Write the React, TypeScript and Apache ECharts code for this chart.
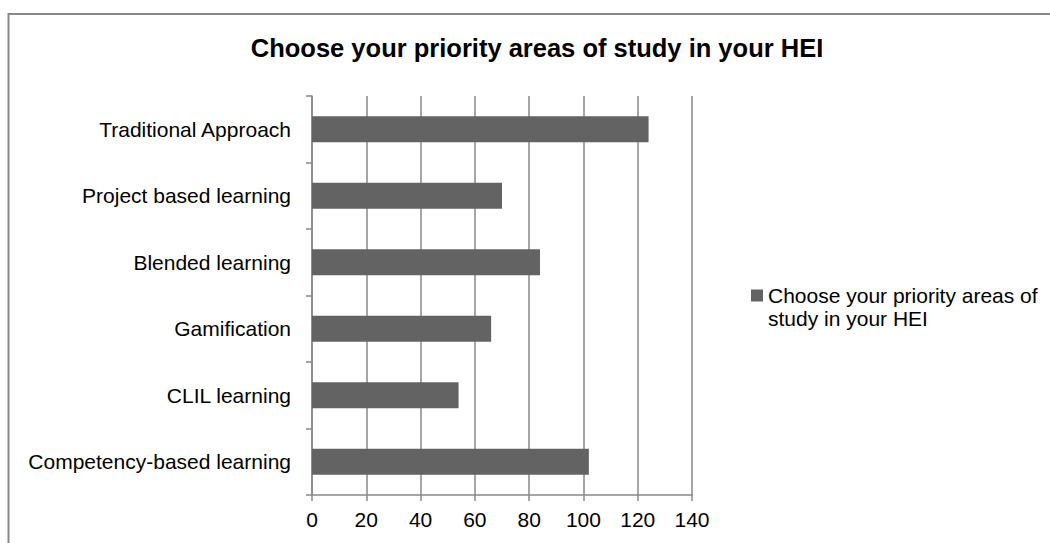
import React, { useEffect, useRef } from "react";
import * as echarts from "echarts";

const TITLE = "Choose your priority areas of study in your HEI";
const SERIES_NAME = "Choose your priority areas of study in your HEI";
const CATEGORIES = [
  "Traditional Approach",
  "Project based learning",
  "Blended learning",
  "Gamification",
  "CLIL learning",
  "Competency-based learning",
];
const VALUES = [124, 70, 84, 66, 54, 102];
const X_MIN = 0;
const X_MAX = 140;
const X_STEP = 20;

const FONT = "'Liberation Sans', Arial, Helvetica, sans-serif";
const GRAY = "#898989";
const BAR = "#636363";

export default function App() {
  const ref = useRef<HTMLDivElement>(null);
  useEffect(() => {
    if (!ref.current) return;
    const chart = echarts.init(ref.current, null, { renderer: "svg" });
    chart.setOption({
      animation: false,
      backgroundColor: "#ffffff",
      textStyle: { fontFamily: FONT },
      title: {
        text: TITLE,
        left: 537,
        top: 35,
        padding: 0,
        textAlign: "center",
        textStyle: { fontFamily: FONT, fontSize: 25.5, fontWeight: "bold", color: "#000" },
      },
      graphic: [
        {
          type: "rect",
          shape: { x: 8.5, y: 14, width: 1100, height: 600 },
          style: { fill: "none", stroke: GRAY, lineWidth: 2 },
          z: -1,
        },
      ],
      legend: {
        data: [SERIES_NAME],
        left: 751,
        top: 261,
        padding: 0,
        orient: "vertical",
        itemWidth: 12,
        itemHeight: 12,
        icon: "rect",
        formatter: () => "\nChoose your priority areas of\nstudy in your HEI",
        textStyle: {
          fontFamily: FONT,
          fontSize: 21,
          color: "#000",
          lineHeight: 23,
        },
      },
      grid: { left: 312, right: 358, top: 96, bottom: 48, containLabel: false },
      xAxis: {
        type: "value",
        min: X_MIN,
        max: X_MAX,
        interval: X_STEP,
        axisLine: { show: true, lineStyle: { color: GRAY, width: 1.5 } },
        axisTick: { show: true, length: 6, lineStyle: { color: GRAY, width: 1.5 } },
        axisLabel: { fontFamily: FONT, fontSize: 21, color: "#000", margin: 14 },
        splitLine: { show: true, lineStyle: { color: GRAY, width: 1.5 } },
      },
      yAxis: {
        type: "category",
        data: CATEGORIES,
        inverse: true,
        axisLine: { show: true, lineStyle: { color: GRAY, width: 1.5 } },
        axisTick: { show: true, length: 6, lineStyle: { color: GRAY, width: 1.5 } },
        axisLabel: { fontFamily: FONT, fontSize: 21, color: "#000", margin: 21 },
        splitLine: { show: false },
      },
      series: [
        {
          name: SERIES_NAME,
          type: "bar",
          data: VALUES,
          barCategoryGap: "61%",
          itemStyle: { color: BAR },
        },
      ],
    });
    return () => chart.dispose();
  }, []);
  return (
    <div
      ref={ref}
      style={{ position: "absolute", left: 0, top: 0, width: 1050, height: 543 }}
    />
  );
}
